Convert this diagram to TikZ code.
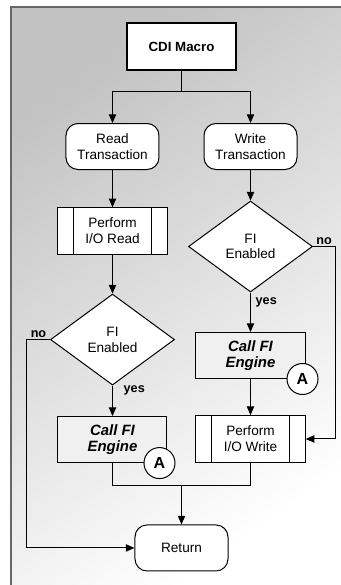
\documentclass[tikz,border=0pt]{standalone}
\usepackage{fontspec}
\setmainfont{Liberation Sans}
\usetikzlibrary{calc,shapes.geometric,arrows.meta}
\tikzstyle{connector} = [line width=0.75pt, -{Triangle[width=5.5pt,length=6.5pt]}]
\tikzstyle{link} = [line width=0.75pt]
\tikzstyle{start} = [rectangle, draw, line width=1.5pt, fill=white, minimum width=81.75pt, minimum height=35.25pt, font=\bfseries\fontsize{10}{12}\selectfont]
\tikzstyle{terminal} = [rectangle, rounded corners=9pt, draw, line width=0.75pt, fill=white, minimum width=69.75pt, minimum height=34.5pt, align=center, font=\fontsize{10.2}{12.2}\selectfont]
\tikzstyle{process} = [rectangle, draw, line width=0.75pt, fill=white, minimum width=82pt, minimum height=35pt, align=center, font=\fontsize{10.2}{12}\selectfont,
    path picture={\draw[line width=0.75pt] ([xshift=12pt]path picture bounding box.north west) -- ([xshift=12pt]path picture bounding box.south west)
        ([xshift=-12pt]path picture bounding box.north east) -- ([xshift=-12pt]path picture bounding box.south east);}]
\tikzstyle{decision} = [diamond, draw, line width=0.75pt, fill=white, minimum width=93pt, minimum height=68.25pt, inner sep=0pt, align=center, font=\fontsize{10.2}{11.8}\selectfont]
\tikzstyle{call} = [rectangle, draw, line width=0.75pt, fill=black!6, minimum width=81.75pt, minimum height=34.5pt, align=center, font=\bfseries\itshape\fontsize{11.2}{12.5}\selectfont]
\tikzstyle{marker} = [circle, draw, line width=0.75pt, fill=white, minimum size=23.25pt, inner sep=0pt, font=\bfseries\fontsize{12}{14}\selectfont]
\tikzstyle{answer} = [font=\bfseries\fontsize{9.5}{11}\selectfont, inner sep=1pt]

\begin{document}
\begin{tikzpicture}[node distance=75pt]
    \useasboundingbox (-136.125pt,34.875pt) rectangle (119.625pt,-403.875pt);
    \shade[top color=black!24, middle color=black!19, bottom color=white, shading angle=35] (-127.875pt,29.625pt) rectangle (119.625pt,-403.875pt);
    \draw[black!60, line width=1.1pt] (-127.875pt,-403.875pt) -- (-127.875pt,29.625pt) -- (119.625pt,29.625pt);

    \node (macro) [start] {CDI Macro};
    \node (read) [terminal, below of=macro, xshift=-51.75pt] {Read\\Transaction};
    \node (write) [terminal, below of=macro, xshift=51.75pt] {Write\\Transaction};
    \node (ioread) [process, below of=read, yshift=11.6pt] {Perform\\I/O Read};
    \node (readfi) [decision, below of=ioread, yshift=-6.4pt] {FI\\Enabled};
    \node (readcall) [call, below of=readfi] {Call FI\\Engine};
    \node (writefi) [decision, below of=write] {FI\\Enabled};
    \node (writecall) [call, below of=writefi, yshift=-6.75pt] {Call FI\\Engine};
    \node (iowrite) [process, below of=writecall, yshift=12.4pt] {Perform\\I/O Write};
    \node (return) [terminal, below of=readcall, xshift=51.75pt, yshift=-6.3pt] {Return};
    \node (readA) [marker] at ($(readcall.south east)+(-6pt,0)$) {A};
    \node (writeA) [marker] at ($(writecall.south east)+(-2.25pt,0)$) {A};
    \coordinate (join) at ($(readcall.south)!0.5!(iowrite.south)+(0,-17.25pt)$);

    \draw [connector] (macro) -- ++(0,-34pt) -| (read);
    \draw [connector] (macro) -- ++(0,-34pt) -| (write);
    \draw [connector] (read) -- (ioread);
    \draw [connector] (ioread) -- (readfi);
    \draw [connector] (readfi) -- node[answer, pos=0.15, right=7pt] {yes} (readcall);
    \draw [connector] (readfi.west) -- node[answer, above] {no} ++(-17.25pt,0) |- (return);
    \draw [connector] (write) -- (writefi);
    \draw [connector] (writefi) -- node[answer, pos=0.25, right=2.5pt] {yes} (writecall);
    \draw [connector] (writefi.east) -- node[answer, above] {no} ++(16.5pt,0) |- (iowrite);
    \draw [connector] (writecall) -- (iowrite);
    \draw [link] (readcall) |- (join) -| (iowrite);
    \draw [connector] (join) -- (return);
\end{tikzpicture}
\end{document}
